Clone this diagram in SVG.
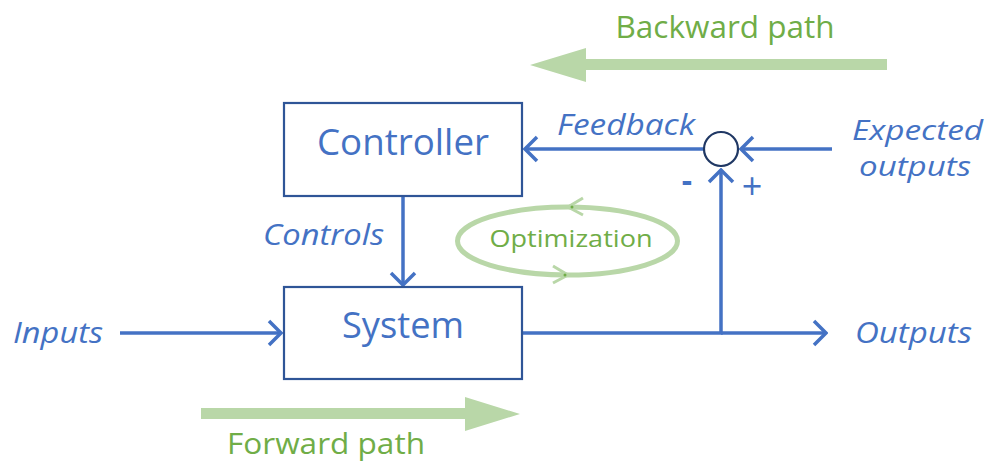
<svg xmlns="http://www.w3.org/2000/svg" width="989" height="463" viewBox="0 0 989 463">
<defs>
<style>
.box{fill:#fff;stroke:#2F5597;stroke-width:2.2}
.conn{fill:none;stroke:#4472C4;stroke-width:3.5}
.lbl{font-family:"Open Sans","Noto Sans",sans-serif;fill:#4472C4}
.it{font-style:italic}
.grn{font-family:"Open Sans","Noto Sans",sans-serif;fill:#70AD47}
.big{fill:#B9D7A8}
</style>
<marker id="ah" markerUnits="userSpaceOnUse" viewBox="-14 -14 16 28" refX="0" refY="0" markerWidth="16" markerHeight="28" orient="auto">
<polyline points="-12,-12 0,0 -12,12" fill="none" stroke="#4472C4" stroke-width="3.5" stroke-linejoin="miter"/>
</marker>
</defs>
<rect width="989" height="463" fill="#fff"/>

<g id="backward-path">
<polygon class="big" points="887,59 586,59 586,48 530,65 586,82 586,70 887,70"/>
<text class="grn" x="725" y="38" font-size="31" text-anchor="middle" textLength="219" lengthAdjust="spacingAndGlyphs">Backward path</text>
</g>

<g id="forward-path">
<polygon class="big" points="201,408 465,408 465,397 520,414 465,431 465,419 201,419"/>
<text class="grn" x="326" y="454" font-size="30" text-anchor="middle" textLength="198" lengthAdjust="spacingAndGlyphs">Forward path</text>
</g>

<g id="optimization">
<ellipse cx="567.5" cy="241" rx="110" ry="34" fill="none" stroke="#B9D7A8" stroke-width="5"/>
<polyline points="583,198 568,207 583,215" fill="none" stroke="#B9D7A8" stroke-width="3"/>
<polyline points="553,266 568,275 553,283" fill="none" stroke="#B9D7A8" stroke-width="3"/>
<circle cx="572" cy="207" r="1.5" fill="#70AD47"/>
<circle cx="565" cy="275" r="1.5" fill="#70AD47"/>
<text class="grn" x="571" y="247" font-size="23" text-anchor="middle" textLength="163" lengthAdjust="spacingAndGlyphs">Optimization</text>
</g>

<g id="connectors">
<line class="conn" x1="403" y1="197" x2="403" y2="285" marker-end="url(#ah)"/>
<line class="conn" x1="120" y1="333" x2="281" y2="333" marker-end="url(#ah)"/>
<polyline class="conn" points="523,333 721,333 721,170" marker-end="url(#ah)"/>
<line class="conn" x1="721" y1="333" x2="826" y2="333" marker-end="url(#ah)"/>
<line class="conn" x1="832" y1="149" x2="741" y2="149" marker-end="url(#ah)"/>
<line class="conn" x1="704" y1="149" x2="525" y2="149" marker-end="url(#ah)"/>
</g>

<g id="controller">
<rect class="box" x="284" y="103" width="238" height="93"/>
<text class="lbl" x="403" y="155" font-size="36" text-anchor="middle" textLength="172" lengthAdjust="spacingAndGlyphs">Controller</text>
</g>

<g id="system">
<rect class="box" x="284" y="287" width="238" height="92"/>
<text class="lbl" x="403" y="338" font-size="36" text-anchor="middle" textLength="122" lengthAdjust="spacingAndGlyphs">System</text>
</g>

<g id="sum">
<circle cx="721" cy="149" r="17" fill="#fff" stroke="#203864" stroke-width="2.2"/>
<text class="lbl" x="687" y="192" font-size="32" font-weight="bold" text-anchor="middle">-</text>
<text class="lbl" x="752" y="199" font-size="36" text-anchor="middle">+</text>
</g>

<g id="labels">
<text class="lbl it" x="13" y="343" font-size="30" textLength="90" lengthAdjust="spacingAndGlyphs">Inputs</text>
<text class="lbl it" x="855" y="343" font-size="30" textLength="117" lengthAdjust="spacingAndGlyphs">Outputs</text>
<text class="lbl it" x="263" y="245" font-size="30" textLength="121" lengthAdjust="spacingAndGlyphs">Controls</text>
<text class="lbl it" x="557" y="135" font-size="30" textLength="138" lengthAdjust="spacingAndGlyphs">Feedback</text>
<text class="lbl it" x="852" y="140" font-size="28" textLength="131" lengthAdjust="spacingAndGlyphs">Expected</text>
<text class="lbl it" x="859" y="176" font-size="28" textLength="112" lengthAdjust="spacingAndGlyphs">outputs</text>
</g>
</svg>
